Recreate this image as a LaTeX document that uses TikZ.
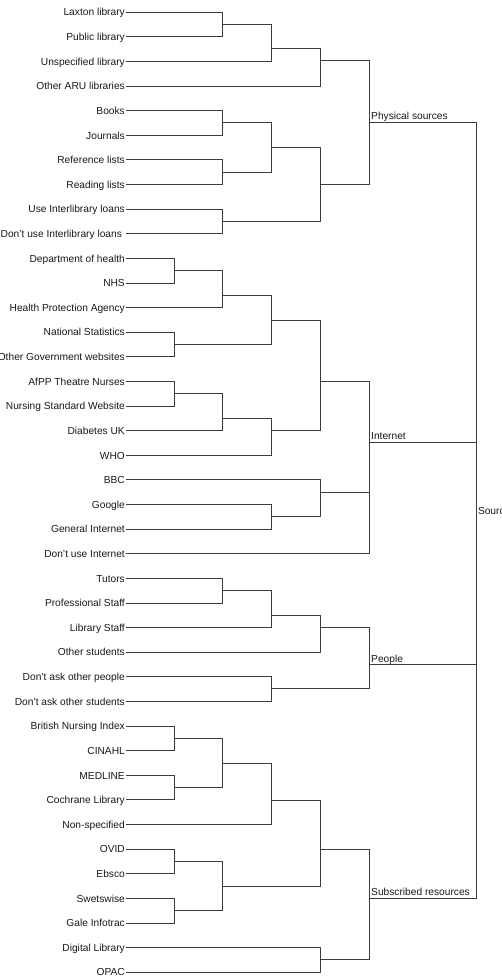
\documentclass[tikz,border=0pt]{standalone}
\usepackage{fontspec}
\setmainfont{Liberation Sans}
\begin{document}
\begin{tikzpicture}[x=1pt,y=-1pt,
  leaf/.style={anchor=east,inner xsep=1pt,inner ysep=0pt,text height=7.3pt,text depth=0pt,
    font=\fontsize{10.2}{12}\selectfont,text={rgb,255:red,25;green,25;blue,25}},
  grp/.style={anchor=base west,inner sep=0pt,font=\fontsize{10.2}{12}\selectfont,text={rgb,255:red,25;green,25;blue,25}},
  br/.style={draw={rgb,255:red,60;green,60;blue,60},line width=1pt}]
\useasboundingbox (0,0) rectangle (502,979);
\clip (0,0) rectangle (502,979);
\fill[white] (0,0) rectangle (502,979);
% leaves
\foreach \n/\i/\t in {
  L1/0/Laxton library, L2/1/Public library, L3/2/Unspecified library, L4/3/Other ARU libraries,
  L5/4/Books, L6/5/Journals, L7/6/Reference lists, L8/7/Reading lists,
  L9/8/Use Interlibrary loans, L10/9/{Don't use Interlibrary loans\ \ },
  L11/10/Department of health, L12/11/NHS, L13/12/Health Protection Agency,
  L14/13/National Statistics, L15/14/Other Government websites,
  L16/15/AfPP Theatre Nurses, L17/16/Nursing Standard Website, L18/17/Diabetes UK, L19/18/WHO,
  L20/19/BBC, L21/20/Google, L22/21/General Internet, L23/22/Don't use Internet,
  L24/23/Tutors, L25/24/Professional Staff, L26/25/Library Staff, L27/26/Other students,
  L28/27/Don't ask other people, L29/28/Don't ask other students,
  L30/29/British Nursing Index, L31/30/CINAHL, L32/31/MEDLINE, L33/32/Cochrane Library,
  L34/33/Non-specified, L35/34/OVID, L36/35/Ebsco, L37/36/Swetswise, L38/37/Gale Infotrac,
  L39/38/Digital Library, L40/39/OPAC}
  \node[leaf] (\n) at (126,{12.3+24.615*\i}) {\t};
% internal joins
\coordinate (p1) at (222.7,24.6);
\coordinate (p2) at (271.7,48.7);
\coordinate (p3) at (320.7,60.7);
\coordinate (p4) at (222.7,122.8);
\coordinate (p5) at (222.7,172.0);
\coordinate (p6) at (271.7,147.4);
\coordinate (p7) at (222.7,221.2);
\coordinate (p8) at (320.7,184.3);
\coordinate (phys) at (369.3,122.5);
\coordinate (i1) at (174,270.7);
\coordinate (i2) at (222.7,295.3);
\coordinate (i3) at (174,344.2);
\coordinate (i4) at (271.7,320.0);
\coordinate (i5) at (174,393.7);
\coordinate (i6) at (222.7,418.3);
\coordinate (i7) at (271.7,430.6);
\coordinate (i8) at (320.7,381.3);
\coordinate (i9) at (271.7,516.4);
\coordinate (i10) at (320.7,492.3);
\coordinate (inet) at (369.3,442.3);
\coordinate (e1) at (222.7,590.6);
\coordinate (e2) at (271.7,615.3);
\coordinate (e3) at (320.7,627.7);
\coordinate (e4) at (271.7,688.6);
\coordinate (ppl) at (369.3,664.7);
\coordinate (s1) at (174,738.0);
\coordinate (s2) at (174,787.0);
\coordinate (s3) at (222.7,763.0);
\coordinate (s4) at (271.7,800.0);
\coordinate (s5) at (174,861.0);
\coordinate (s6) at (174,910.0);
\coordinate (s7) at (222.7,886.3);
\coordinate (s8) at (320.7,849.0);
\coordinate (s9) at (320.7,959.5);
\coordinate (sub) at (369.3,898.3);
\coordinate (root) at (476,510.5);
% branches
\foreach \a/\b in {
  L1/p1, L2/p1, p1/p2, L3/p2, p2/p3, L4/p3,
  L5/p4, L6/p4, L7/p5, L8/p5, p4/p6, p5/p6, L9/p7, L10/p7, p6/p8, p7/p8,
  p3/phys, p8/phys,
  L11/i1, L12/i1, i1/i2, L13/i2, L14/i3, L15/i3, i2/i4, i3/i4,
  L16/i5, L17/i5, i5/i6, L18/i6, i6/i7, L19/i7, i4/i8, i7/i8,
  L21/i9, L22/i9, L20/i10, i9/i10, i8/inet, i10/inet, L23/inet,
  L24/e1, L25/e1, e1/e2, L26/e2, e2/e3, L27/e3, L28/e4, L29/e4, e3/ppl, e4/ppl,
  L30/s1, L31/s1, L32/s2, L33/s2, s1/s3, s2/s3, s3/s4, L34/s4,
  L35/s5, L36/s5, L37/s6, L38/s6, s5/s7, s6/s7, s4/s8, s7/s8,
  L39/s9, L40/s9, s8/sub, s9/sub,
  phys/root, inet/root, ppl/root, sub/root}
  \draw[br] (\a) -| (\b);
% group labels
\node[grp] (lphys) at (371,119.8) {Physical sources};
\node[grp] (linet) at (371,439.6) {Internet};
\node[grp] (lppl) at (371,662.0) {People};
\node[grp] (lsub) at (371,895.6) {Subscribed resources};
\node[grp] (lroot) at (477.8,514.2) {Sources};
\end{tikzpicture}
\end{document}
